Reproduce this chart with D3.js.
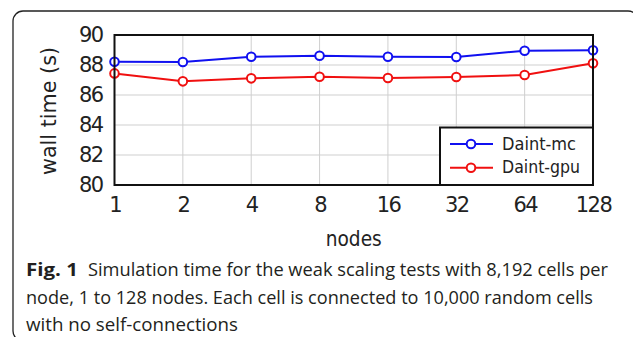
<!DOCTYPE html>
<html>
<head>
<meta charset="utf-8">
<script src="https://cdn.jsdelivr.net/npm/d3@7/dist/d3.min.js"></script>
<style>
  html, body { margin: 0; padding: 0; background: #fff; }
  svg { display: block; }
  .lbl { font-family: "DejaVu Sans", sans-serif; fill: #222; }
  .caption text { font-family: "Open Sans", "Noto Sans", sans-serif; fill: #231f20; }
</style>
</head>
<body>
<script>
// Weak scaling: wall time per node count for the two Piz Daint partitions
const nodes = [1, 2, 4, 8, 16, 32, 64, 128];
const daintMc  = [88.22, 88.20, 88.55, 88.62, 88.55, 88.53, 88.95, 88.98];
const daintGpu = [87.44, 86.91, 87.11, 87.22, 87.13, 87.20, 87.33, 88.11];
const yTicks = [80, 82, 84, 86, 88, 90];
const seriesNames = ["Daint-mc", "Daint-gpu"];
const seriesColors = ["#1010f0", "#f01010"];
const captionLines = [
  "Simulation time for the weak scaling tests with 8,192 cells per",
  "node, 1 to 128 nodes. Each cell is connected to 10,000 random cells",
  "with no self-connections"
];

const W = 633, H = 337;
const plot = { left: 114.5, right: 593, top: 35, bottom: 185 };

const svg = d3.select("body").append("svg")
  .attr("width", W).attr("height", H);

// rounded figure frame
svg.append("rect")
  .attr("x", 13).attr("y", 11).attr("width", 625).attr("height", 330)
  .attr("rx", 10).attr("ry", 10)
  .attr("fill", "none").attr("stroke", "#222").attr("stroke-width", 1.3);

const x = d3.scaleLog().base(2).domain([1, 128]).range([plot.left, plot.right]);
const y = d3.scaleLinear().domain([80, 90]).range([plot.bottom, plot.top]);

// grid
const grid = svg.append("g");
grid.selectAll(".gx").data(nodes).join("line")
  .attr("x1", d => x(d)).attr("x2", d => x(d))
  .attr("y1", plot.top).attr("y2", plot.bottom)
  .attr("stroke", "#cfcfcf").attr("stroke-width", 1);
grid.selectAll(".gy").data(yTicks).join("line")
  .attr("x1", plot.left).attr("x2", plot.right)
  .attr("y1", d => y(d)).attr("y2", d => y(d))
  .attr("stroke", "#cfcfcf").attr("stroke-width", 1);

// axes (labels only; frame drawn separately)
const xAxis = svg.append("g")
  .attr("transform", `translate(0,${plot.bottom})`)
  .call(d3.axisBottom(x).tickValues(nodes).tickFormat(d3.format("d")).tickSize(0).tickPadding(12));
xAxis.select(".domain").remove();
xAxis.attr("font-family", null).attr("font-size", null);
xAxis.selectAll("text").attr("class", "lbl").attr("font-size", 21)
  .attr("letter-spacing", -1.6).attr("fill", "#222");

const yAxis = svg.append("g")
  .attr("transform", `translate(${plot.left},0)`)
  .call(d3.axisLeft(y).tickValues(yTicks).tickSize(0).tickPadding(12));
yAxis.select(".domain").remove();
yAxis.attr("font-family", null).attr("font-size", null);
yAxis.selectAll("text").attr("class", "lbl").attr("font-size", 21)
  .attr("letter-spacing", -1.6).attr("fill", "#222");

// axis titles
svg.append("text").attr("class", "lbl")
  .attr("transform", `translate(56,${(plot.top + plot.bottom) / 2 + 1}) rotate(-90)`)
  .attr("text-anchor", "middle").attr("font-size", 21)
  .attr("textLength", 128).attr("lengthAdjust", "spacingAndGlyphs")
  .text("wall time (s)");
svg.append("text").attr("class", "lbl")
  .attr("x", (plot.left + plot.right) / 2).attr("y", 246)
  .attr("text-anchor", "middle").attr("font-size", 21)
  .attr("textLength", 56).attr("lengthAdjust", "spacingAndGlyphs")
  .text("nodes");

// series
const line = d3.line().x((d, i) => x(nodes[i])).y(d => y(d));
[daintMc, daintGpu].forEach((vals, k) => {
  const g = svg.append("g");
  g.append("path").datum(vals).attr("d", line)
    .attr("fill", "none").attr("stroke", seriesColors[k]).attr("stroke-width", 2);
  g.selectAll("circle").data(vals).join("circle")
    .attr("cx", (d, i) => x(nodes[i])).attr("cy", d => y(d)).attr("r", 4.3)
    .attr("fill", "#fff").attr("stroke", seriesColors[k]).attr("stroke-width", 2);
});

// plot frame
svg.append("rect")
  .attr("x", plot.left).attr("y", plot.top)
  .attr("width", plot.right - plot.left).attr("height", plot.bottom - plot.top)
  .attr("fill", "none").attr("stroke", "#111").attr("stroke-width", 2);

// legend
const leg = { x: 440, y: 127.5, w: 153, h: 57.5 };
svg.append("rect")
  .attr("x", leg.x).attr("y", leg.y).attr("width", leg.w).attr("height", leg.h)
  .attr("fill", "#fff").attr("stroke", "#111").attr("stroke-width", 2);
const legW = [74, 78];
seriesNames.forEach((name, k) => {
  const ly = 144 + k * 23.7;
  svg.append("line").attr("x1", 450).attr("x2", 493).attr("y1", ly).attr("y2", ly)
    .attr("stroke", seriesColors[k]).attr("stroke-width", 2);
  svg.append("circle").attr("cx", 471).attr("cy", ly).attr("r", 4.3)
    .attr("fill", "#fff").attr("stroke", seriesColors[k]).attr("stroke-width", 2);
  svg.append("text").attr("class", "lbl")
    .attr("x", 502).attr("y", ly + 5.5).attr("font-size", 17.5)
    .attr("textLength", legW[k]).attr("lengthAdjust", "spacingAndGlyphs")
    .text(name);
});

// caption
const cap = svg.append("g").attr("class", "caption");
const capX = [88, 26, 26], capY = [276, 304, 331], capW = [520, 567, 212];
cap.append("text").attr("x", 26).attr("y", capY[0])
  .attr("font-size", 18).attr("font-weight", 700)
  .attr("textLength", 52).attr("lengthAdjust", "spacingAndGlyphs")
  .text("Fig. 1");
captionLines.forEach((t, i) => {
  cap.append("text").attr("x", capX[i]).attr("y", capY[i])
    .attr("font-size", 18)
    .attr("textLength", capW[i]).attr("lengthAdjust", "spacingAndGlyphs")
    .text(t);
});
</script>
</body>
</html>
